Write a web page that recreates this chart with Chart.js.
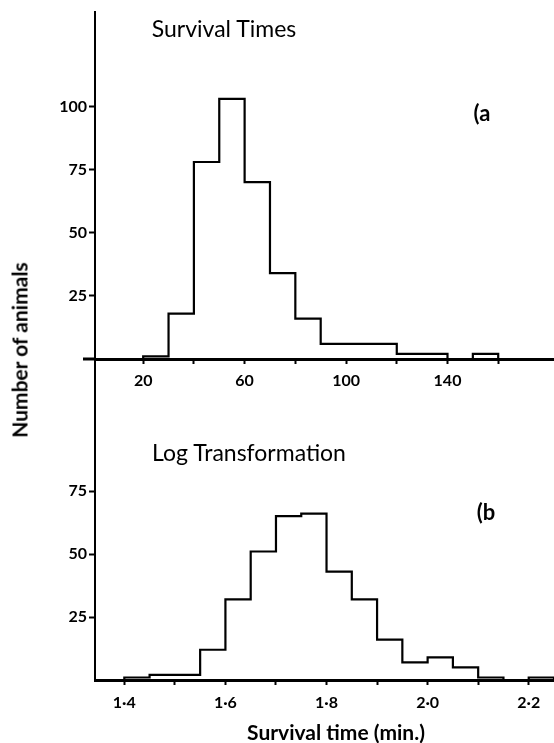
<!DOCTYPE html>
<html>
<head>
<meta charset="utf-8">
<script src="https://cdn.jsdelivr.net/npm/chart.js@4"></script>
<style>
  html, body { margin: 0; padding: 0; background: #fff; }
  #wrap { position: relative; width: 554px; height: 743px; overflow: hidden; font-family: Lato, sans-serif; color: #000; }
  canvas { position: absolute; left: 0; top: 0; }
  .lbl { position: absolute; white-space: nowrap; line-height: 1; transform: translate(-50%, -50%); }
</style>
</head>
<body>
<div id="wrap">
  <canvas id="topChart" width="554" height="743"></canvas>
  <canvas id="bottomChart" width="554" height="743"></canvas>
  <div class="lbl" style="left:224px;top:28px;font-size:23px;">Survival Times</div>
  <div class="lbl" style="left:482px;top:113px;font-size:22px;font-weight:bold;">(a</div>
  <div class="lbl" style="left:249px;top:452px;font-size:23px;">Log Transformation</div>
  <div class="lbl" style="left:486px;top:512px;font-size:22px;font-weight:bold;">(b</div>
  <div class="lbl" style="left:336px;top:731px;font-size:21px;font-weight:bold;">Survival time (min.)</div>
  <div class="lbl" style="left:19px;top:350px;font-size:21px;font-weight:bold;transform:translate(-50%, -50%) rotate(-90deg);">Number of animals</div>
</div>
<script>
/**
 * Data: (a) survival times, bins of 10 min.
 */
const topBinStarts = [20, 30, 40, 50, 60, 70, 80, 90, 100, 110, 120, 130, 140, 150];
const topCounts = [1, 18, 78, 103, 70, 34, 16, 6, 6, 6, 2, 2, 0, 2];
const topBinWidth = 10;
const topXTicks = [20, 40, 60, 80, 100, 120, 140, 160];
const topXLabels = ['20', '', '60', '', '100', '', '140', ''];
const topYTicks = [25, 50, 75, 100];

/**
 * Data: (b) log transformation, bins of 0.05.
 */
const bottomBinStarts = [1.40, 1.45, 1.50, 1.55, 1.60, 1.65, 1.70, 1.75, 1.80, 1.85, 1.90, 1.95, 2.00, 2.05, 2.10, 2.15, 2.20];
const bottomCounts = [1, 2, 2, 12, 32, 51, 65, 66, 43, 32, 16, 7, 9, 5, 1, 0, 1];
const bottomBinWidth = 0.05;
const bottomXTicks = [1.4, 1.5, 1.6, 1.7, 1.8, 1.9, 2.0, 2.1, 2.2];
const bottomXLabels = ['1·4', '', '1·6', '', '1·8', '', '2·0', '', '2·2'];
const bottomYTicks = [25, 50, 75];

/**
 * Build the outline points of a histogram (stepped line).
 */
function stepPoints(starts, counts, width) {
  const pts = [{ x: starts[0], y: 0 }];
  starts.forEach((s, i) => pts.push({ x: s, y: counts[i] }));
  pts.push({ x: starts[starts.length - 1] + width, y: 0 });
  return pts;
}

/**
 * Short stub of the baseline to the left of the y axis.
 */
const baseStub = {
  id: 'baseStub',
  afterDraw(chart, args, opts) {
    if (!opts.length) return;
    const { ctx, scales } = chart;
    const y0 = scales.y.getPixelForValue(0);
    ctx.save();
    ctx.strokeStyle = '#000';
    ctx.lineWidth = 3;
    ctx.beginPath();
    ctx.moveTo(scales.x.left - opts.length, y0);
    ctx.lineTo(scales.x.left, y0);
    ctx.stroke();
    ctx.restore();
  },
};

function makeHistogram(el, cfg) {
  return new Chart(el, {
    type: 'scatter',
    data: {
      datasets: [{
        data: stepPoints(cfg.starts, cfg.counts, cfg.width),
        showLine: true,
        stepped: 'before',
        borderColor: '#000',
        borderWidth: 2.2,
        pointRadius: 0,
        fill: false,
      }],
    },
    options: {
      responsive: false,
      animation: false,
      events: [],
      layout: { padding: { top: cfg.padTop, bottom: cfg.padBottom, left: 0, right: 0 } },
      plugins: {
        legend: { display: false },
        tooltip: { enabled: false },
        baseStub: { length: cfg.stub },
      },
      scales: {
        x: {
          type: 'linear',
          min: cfg.xMin,
          max: cfg.xMax,
          afterBuildTicks: (s) => { s.ticks = cfg.xTicks.map((v) => ({ value: v })); },
          afterFit: (s) => { s.height = cfg.xHeight; },
          grid: { drawOnChartArea: false, tickLength: 5, tickWidth: 2, color: '#000' },
          border: { display: true, color: '#000', width: 3 },
          ticks: {
            autoSkip: false,
            maxRotation: 0,
            padding: cfg.xPad,
            color: '#000',
            font: { family: 'Lato', size: 16, weight: 'bold' },
            callback: (v, i) => cfg.xLabels[i],
          },
        },
        y: {
          min: 0,
          max: cfg.yMax,
          afterBuildTicks: (s) => { s.ticks = cfg.yTicks.map((v) => ({ value: v })); },
          afterFit: (s) => { s.width = 95; },
          grid: { drawOnChartArea: false, tickLength: 6, tickWidth: 2, color: '#000' },
          border: { display: true, color: '#000', width: 2 },
          ticks: {
            padding: 2,
            color: '#000',
            font: { family: 'Lato', size: 16, weight: 'bold' },
          },
        },
      },
    },
    plugins: [baseStub],
  });
}

makeHistogram(document.getElementById('topChart'), {
  starts: topBinStarts,
  counts: topCounts,
  width: topBinWidth,
  xTicks: topXTicks,
  xLabels: topXLabels,
  yTicks: topYTicks,
  xMin: 1,
  xMax: 182,
  yMax: 137.4,
  padTop: 12,
  xHeight: 40,
  xPad: 7,
  padBottom: 743 - 359 - 40,
  stub: 12,
});

makeHistogram(document.getElementById('bottomChart'), {
  starts: bottomBinStarts,
  counts: bottomCounts,
  width: bottomBinWidth,
  xTicks: bottomXTicks,
  xLabels: bottomXLabels,
  yTicks: bottomYTicks,
  xMin: 1.342,
  xMax: 2.25,
  yMax: 127,
  padTop: 360,
  xHeight: 63,
  xPad: 8,
  padBottom: 0,
  stub: 0,
});
</script>
</body>
</html>
